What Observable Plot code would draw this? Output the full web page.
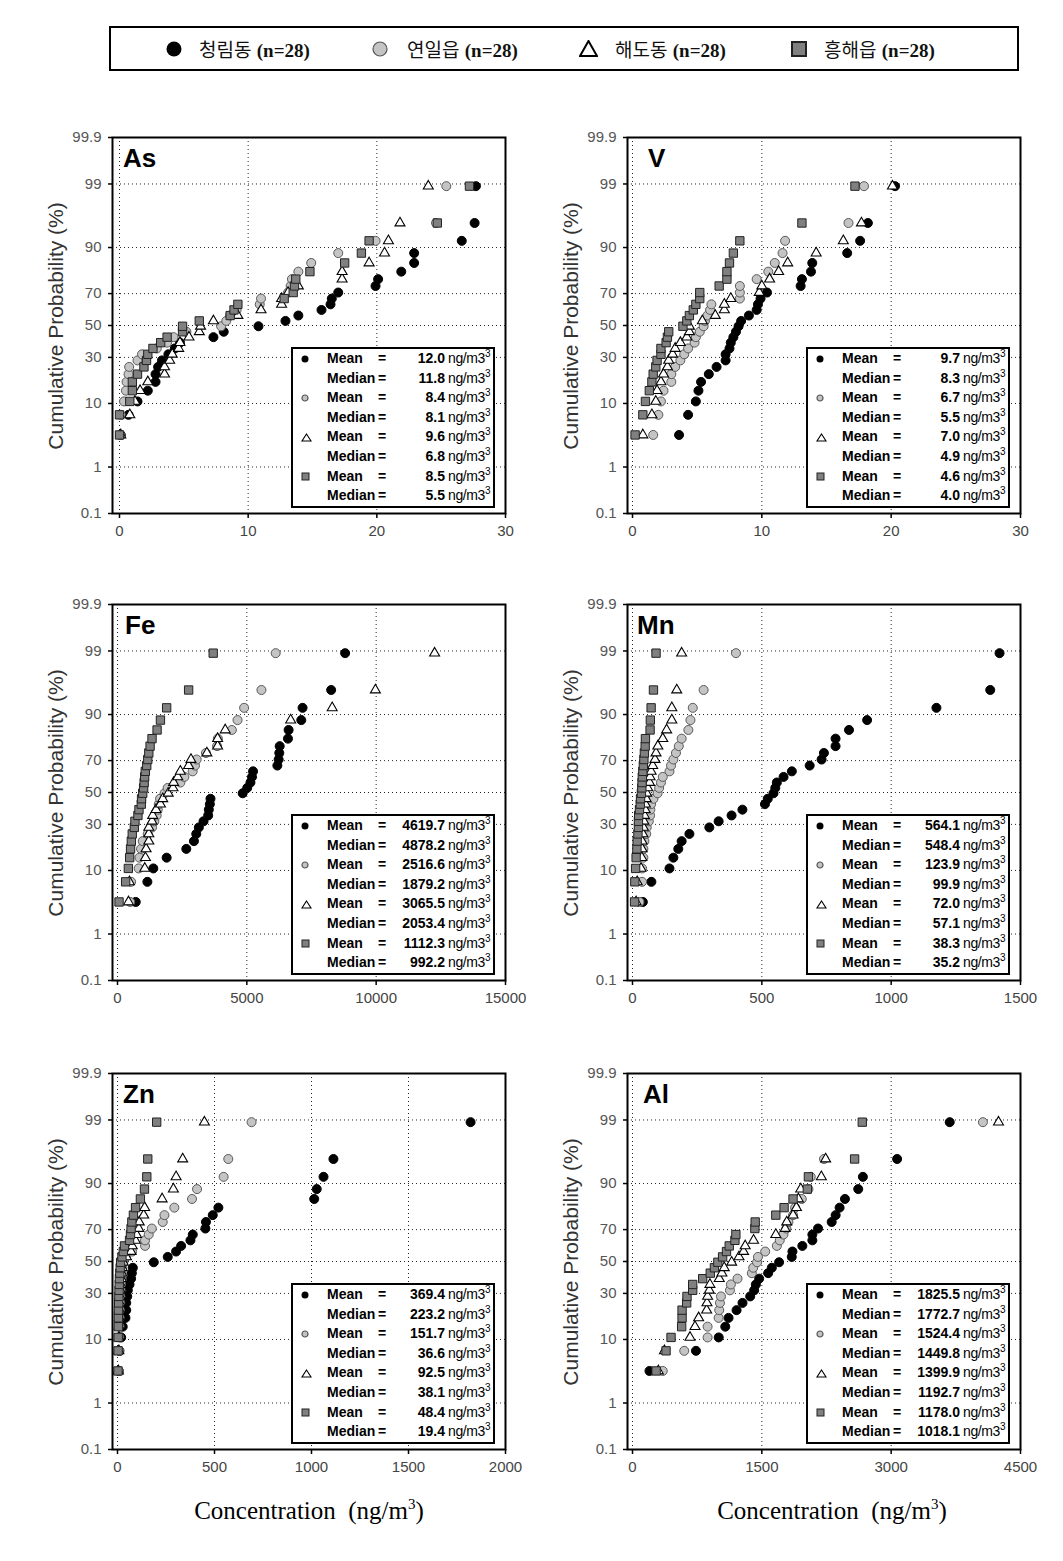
<!DOCTYPE html>
<html><head><meta charset="utf-8">
<script src="https://cdn.jsdelivr.net/npm/d3@7"></script>
<script src="https://cdn.jsdelivr.net/npm/@observablehq/plot@0.6"></script>
<style>
body{margin:0;background:#fff;}
#page{position:relative;width:1063px;height:1561px;overflow:hidden;font-family:"Liberation Sans",Arial,sans-serif;background:#fff;}
.panel{position:absolute;width:480px;height:430px;}
.panel > svg{position:absolute;left:0;top:0;}
.ylab{position:absolute;left:21px;top:206px;transform:translate(-50%,-50%) rotate(-90deg);white-space:nowrap;font-size:21px;color:#333;}
.ptitle{position:absolute;top:25px;font-weight:bold;font-size:26px;line-height:26px;color:#000;}
.box{position:absolute;left:256px;top:227px;width:204px;height:161px;box-sizing:border-box;border:2px solid #000;background:#fff;
  display:grid;grid-template-columns:34px 50px 10px 58px auto;grid-auto-rows:19.6px;font-size:14px;font-weight:bold;color:#000;}
.box div{line-height:19.6px;white-space:nowrap;}
.box .eq{text-align:center;}
.box .val{text-align:right;}
.box .unit{padding-left:3px;font-weight:normal;letter-spacing:-0.4px;}
.box .unit sup{font-size:10px;vertical-align:6px;line-height:0;}
.box .mk{display:flex;align-items:center;padding-left:8px;}
.box .mk svg{display:block;}
#legend{position:absolute;left:109px;top:26px;width:910px;height:45px;box-sizing:border-box;border:2px solid #000;background:#fff;}
#legend .lm{position:absolute;top:13px;}
#legend .lm svg{display:block;}
#legend .lt{position:absolute;top:8px;font-size:19px;line-height:26px;white-space:nowrap;color:#111;}
#legend .kr{font-family:"Noto Sans CJK KR",sans-serif;}
#legend .nn{font-family:"Liberation Serif","Times New Roman",serif;font-weight:bold;}
.xtitle{position:absolute;top:1497px;font-family:"Liberation Serif","Times New Roman",serif;font-size:25px;white-space:nowrap;transform:translateX(-50%);color:#000;}
.xtitle sup{font-size:15px;vertical-align:10px;line-height:0;}
</style></head>
<body><div id="page"></div>
<script>
// ---------- data ----------
const sites = ["청림동", "연일읍", "해도동", "흥해읍"];
const sampleCount = [28, 28, 28, 28];
// cumulative probability (%) of the 28 ranked samples, as plotted
const cumProb = [3.6,7.1,10.6,14.2,17.7,21.2,24.8,28.3,31.8,35.3,38.9,42.4,45.9,49.5,53.0,56.5,60.1,63.6,67.1,70.6,74.2,77.7,81.2,84.8,88.3,91.8,95.4,98.9];
const probTicks = [0.1, 1, 10, 30, 50, 70, 90, 99, 99.9];
const probTickLabels = ["0.1", "1", "10", "30", "50", "70", "90", "99", "99.9"];

// As (ng/m3)
const as_cr = [0.1,0.7,1.4,2.2,2.8,2.8,3.0,3.3,3.8,4.3,4.7,7.3,8.1,10.8,12.9,13.9,15.7,16.4,16.5,17.0,19.9,20.1,21.9,22.9,22.9,26.6,27.6,27.7];
const as_yi = [0.05,0.1,0.35,0.5,0.55,0.7,0.75,1.4,1.75,2.9,3.7,4.2,5.2,7.9,8.3,8.6,9.1,10.9,11.0,13.1,13.3,13.4,13.9,14.9,17.0,19.9,24.6,25.4];
const as_hd = [0.1,0.8,1.2,1.6,2.2,3.5,3.5,3.9,4.1,4.6,4.7,5.4,6.2,6.3,7.3,9.2,11.0,12.6,12.6,13.1,13.9,17.3,17.3,19.4,20.6,20.9,21.8,24.0];
const as_hh = [0.0,0.0,0.8,1.0,1.0,1.4,1.9,2.1,2.2,2.6,3.2,3.7,4.9,4.9,6.2,8.6,8.9,9.2,12.8,13.5,13.6,13.7,14.8,17.5,18.8,19.4,24.7,27.2];
// V
const v_cr = [3.6,4.3,4.9,5.1,5.3,5.9,6.5,7.2,7.2,7.5,7.6,7.8,8.0,8.2,8.4,9.0,9.6,9.7,9.9,10.4,13.0,13.1,13.8,13.9,16.6,17.6,18.2,20.3];
const v_yi = [1.6,2.0,2.2,2.4,3.0,3.0,3.3,3.7,4.0,4.3,4.8,4.9,5.2,5.5,5.6,5.8,6.0,6.1,8.3,8.3,8.3,9.6,10.5,11.0,11.6,11.8,16.7,17.9];
const v_hd = [0.8,1.5,1.8,1.9,2.2,2.4,2.7,2.8,3.1,3.3,3.7,4.2,4.4,4.4,5.4,6.4,7.1,7.1,7.6,9.8,10.0,10.6,11.3,12.0,14.2,16.3,17.7,20.1];
const v_hh = [0.2,0.8,1.0,1.3,1.5,1.6,1.8,1.9,2.2,2.2,2.6,2.7,2.8,3.9,4.2,4.4,4.7,4.9,5.2,5.2,6.7,7.3,7.3,7.5,7.8,8.3,13.1,17.2];
// Fe
const fe_cr = [705,1155,1385,1900,2660,2955,3045,3145,3325,3505,3530,3570,3595,4840,5015,5140,5200,5240,6180,6230,6255,6270,6590,6615,7105,7155,8260,8800];
const fe_yi = [490,525,820,850,910,975,1170,1335,1425,1515,1555,1595,1645,1820,1940,2430,2585,2905,2995,3060,3420,3850,3880,4420,4640,4895,5565,6115];
const fe_hd = [425,460,1055,1080,1105,1210,1210,1210,1335,1360,1490,1660,1750,1960,2145,2170,2330,2430,2750,2840,3455,3870,3870,4165,6695,8300,9970,12260];
const fe_hh = [60,315,420,470,505,535,570,650,675,790,830,920,930,975,1010,1030,1050,1075,1130,1170,1210,1260,1335,1530,1660,1900,2750,3700];
// Mn
const mn_cr = [40,73,143,158,177,190,220,297,333,383,425,512,523,545,552,558,584,616,685,731,740,785,785,837,907,1175,1383,1419];
const mn_yi = [27,37,37,42,42,46,53,55,63,68,69,72,81,97,103,110,117,143,149,158,168,179,190,216,224,233,275,400];
const mn_hd = [14,18,33,36,37,37,40,42,44,46,49,50,53,55,59,66,68,72,78,87,91,98,117,132,152,152,171,190];
const mn_hh = [8,9,12,14,17,18,21,23,23,24,27,30,31,34.5,36,37,38,40,42,44,46,49,50,68,69,72,81,91];
// Zn
const zn_cr = [7,10,19,27,41,45,45,50,53,62,70,74,79,187,259,302,328,376,388,453,456,491,520,1014,1027,1062,1113,1820];
const zn_yi = [7,8,9,10,11,12,14,15,16,18,20,22,25,30,43,75,142,142,161,177,233,242,293,384,410,547,571,691];
const zn_hd = [5,7,8,9,10,11,12,13,15,17,20,22,25,30,46,70,76,92,98,110,112,135,140,230,288,302,336,448];
const zn_hh = [2.5,3,3.5,4,4.5,5,6,7,8,9,10,12,14,16,23,30,36,62,67,70,74,82,93,118,139,151,156,202];
// Al
const al_cr = [197,736,1000,1076,1114,1207,1276,1365,1411,1431,1469,1573,1616,1700,1847,1855,1970,2086,2086,2152,2310,2356,2402,2464,2618,2672,3069,3679];
const al_yi = [351,600,871,871,999,1006,1014,1026,1130,1141,1218,1384,1400,1445,1455,1539,1674,1708,1751,1785,1808,1862,1886,1963,2040,2067,2221,4064];
const al_hd = [300,370,667,725,767,860,864,871,891,898,1006,1037,1064,1150,1235,1288,1307,1404,1662,1770,1789,1862,1901,1924,1951,2190,2240,4245];
const al_hh = [274,389,447,570,575,575,628,632,698,698,814,902,950,990,1045,1090,1122,1188,1199,1419,1423,1662,1758,1862,2028,2040,2576,2665];

// mean / median labels (ng/m3)
const meanAs = ["12.0","8.4","9.6","8.5"],           medianAs = ["11.8","8.1","6.8","5.5"];
const meanV  = ["9.7","6.7","7.0","4.6"],            medianV  = ["8.3","5.5","4.9","4.0"];
const meanFe = ["4619.7","2516.6","3065.5","1112.3"], medianFe = ["4878.2","1879.2","2053.4","992.2"];
const meanMn = ["564.1","123.9","72.0","38.3"],      medianMn = ["548.4","99.9","57.1","35.2"];
const meanZn = ["369.4","151.7","92.5","48.4"],      medianZn = ["223.2","36.6","38.1","19.4"];
const meanAl = ["1825.5","1524.4","1399.9","1178.0"], medianAl = ["1772.7","1449.8","1192.7","1018.1"];

const xTicksAs = [0,10,20,30], xTicksV = [0,10,20,30], xTicksFe = [0,5000,10000,15000],
      xTicksMn = [0,500,1000,1500], xTicksZn = [0,500,1000,1500,2000], xTicksAl = [0,1500,3000,4500];

// ---------- helpers ----------
function probit(p){
  const a=[-3.969683028665376e+01,2.209460984245205e+02,-2.759285104469687e+02,1.383577518672690e+02,-3.066479806614716e+01,2.506628277459239e+00];
  const b=[-5.447609879822406e+01,1.615858368580409e+02,-1.556989798598866e+02,6.680131188771972e+01,-1.328068155288572e+01];
  const c=[-7.784894002430293e-03,-3.223964580411365e-01,-2.400758277161838e+00,-2.549732539343734e+00,4.374664141464968e+00,2.938163982698783e+00];
  const d=[7.784695709041462e-03,3.224671290700398e-01,2.445134137142996e+00,3.754408661907416e+00];
  const pl=0.02425, ph=1-pl;
  if(p<pl){const q=Math.sqrt(-2*Math.log(p));return (((((c[0]*q+c[1])*q+c[2])*q+c[3])*q+c[4])*q+c[5])/((((d[0]*q+d[1])*q+d[2])*q+d[3])*q+1);}
  if(p<=ph){const q=p-0.5,r=q*q;return (((((a[0]*r+a[1])*r+a[2])*r+a[3])*r+a[4])*r+a[5])*q/(((((b[0]*r+b[1])*r+b[2])*r+b[3])*r+b[4])*r+1);}
  const q=Math.sqrt(-2*Math.log(1-p));return -(((((c[0]*q+c[1])*q+c[2])*q+c[3])*q+c[4])*q+c[5])/((((d[0]*q+d[1])*q+d[2])*q+d[3])*q+1);
}
const zTicks = probTicks.map(p => probit(p/100));
const zLabel = new Map(zTicks.map((z,i) => [z.toFixed(6), probTickLabels[i]]));

const styles = [
  {symbol:"circle",   fill:"#000",    stroke:"#000",    r:4.5, strokeWidth:1},
  {symbol:"circle",   fill:"#c4c4c4", stroke:"#5a5a5a", r:4.5, strokeWidth:1},
  {symbol:"triangle", fill:"#fff",    stroke:"#000",    r:3.7, strokeWidth:1.1},
  {symbol:"square",   fill:"#808080", stroke:"#222",    r:4.7, strokeWidth:1}
];
const markerSvg = [
  w => `<svg width="${w}" height="${w}"><circle cx="${w/2}" cy="${w/2}" r="${w/2-0.5}" fill="#000"/></svg>`,
  w => `<svg width="${w}" height="${w}"><circle cx="${w/2}" cy="${w/2}" r="${w/2-1}" fill="#c4c4c4" stroke="#555" stroke-width="1.2"/></svg>`,
  w => `<svg width="${w+2}" height="${w}"><path d="M${(w+2)/2},1 L${w+1},${w-1} L1,${w-1} Z" fill="#fff" stroke="#000" stroke-width="${w>12?2:1.1}"/></svg>`,
  w => `<svg width="${w}" height="${w}"><rect x="1" y="1" width="${w-2}" height="${w-2}" fill="#808080" stroke="#222" stroke-width="${w>12?2:1}"/></svg>`
];

const page = document.getElementById("page");

// top legend
const legend = document.createElement("div"); legend.id = "legend";
const lmX = [55, 261, 468, 680], ltX = [88, 296, 504, 713];
sites.forEach((s,i) => {
  const m = document.createElement("div"); m.className = "lm";
  m.style.left = lmX[i]+"px"; m.style.top = (i===2? 12: 13)+"px";
  m.innerHTML = markerSvg[i](i===2?17:16);
  legend.appendChild(m);
  const t = document.createElement("div"); t.className = "lt"; t.style.left = ltX[i]+"px";
  t.innerHTML = `<span class="kr">${s}</span> <span class="nn">(n=${sampleCount[i]})</span>`;
  legend.appendChild(t);
});
page.appendChild(legend);

const panels = [
  {name:"As", left:35,  top:120,  xmax:30,    xticks:xTicksAs, inset:7, tdx:88, series:[as_cr,as_yi,as_hd,as_hh], mean:meanAs, median:medianAs},
  {name:"V",  left:550, top:120,  xmax:30,    xticks:xTicksV,  inset:5, tdx:98, series:[v_cr,v_yi,v_hd,v_hh],     mean:meanV,  median:medianV},
  {name:"Fe", left:35,  top:587,  xmax:15000, xticks:xTicksFe, inset:5, tdx:90, series:[fe_cr,fe_yi,fe_hd,fe_hh], mean:meanFe, median:medianFe},
  {name:"Mn", left:550, top:587,  xmax:1500,  xticks:xTicksMn, inset:5, tdx:87, series:[mn_cr,mn_yi,mn_hd,mn_hh], mean:meanMn, median:medianMn},
  {name:"Zn", left:35,  top:1056, xmax:2000,  xticks:xTicksZn, inset:5, tdx:88, series:[zn_cr,zn_yi,zn_hd,zn_hh], mean:meanZn, median:medianZn},
  {name:"Al", left:550, top:1056, xmax:4500,  xticks:xTicksAl, inset:5, tdx:93, series:[al_cr,al_yi,al_hd,al_hh], mean:meanAl, median:medianAl}
];

panels.forEach(cfg => {
  const div = document.createElement("div"); div.className = "panel";
  div.style.left = cfg.left+"px"; div.style.top = cfg.top+"px";
  const dotMarks = cfg.series.map((vals, s) => {
    const rows = vals.map((v,i) => ({x:v, z:probit(cumProb[i]/100), site:sites[s]}));
    return Plot.dot(rows, {x:"x", y:"z", ...styles[s]});
  });
  const svg = Plot.plot({
    width:480, height:430,
    marginLeft:77, marginRight:10, marginTop:17, marginBottom:37,
    style:{background:"transparent", fontFamily:"'Liberation Sans', Arial, sans-serif", overflow:"visible"},
    x:{domain:[0,cfg.xmax], insetLeft:cfg.inset, label:null},
    y:{domain:[probit(0.001), probit(0.999)], label:null},
    marks:[
      Plot.frame({fill:"#fff", stroke:"none"}),
      Plot.gridX({ticks:cfg.xticks.slice(0,-1), stroke:"#000", strokeOpacity:0.85, strokeDasharray:"1,3"}),
      Plot.gridY({ticks:zTicks.slice(1,-1), stroke:"#000", strokeOpacity:0.85, strokeDasharray:"1,3"}),
      ...dotMarks,
      Plot.frame({stroke:"#000", strokeWidth:2}),
      Plot.axisY({ticks:zTicks, tickFormat:d => zLabel.get(d.toFixed(6)), tickSize:4, tickPadding:7, fontSize:15, fill:"#555", stroke:"#000", strokeWidth:1.5, label:null}),
      Plot.axisX({ticks:cfg.xticks, tickFormat:d => String(d), tickSize:5, tickPadding:7, fontSize:15, fill:"#444", stroke:"#000", strokeWidth:1.5, label:null})
    ]
  });
  div.appendChild(svg);

  const yl = document.createElement("div"); yl.className = "ylab"; yl.textContent = "Cumulative Probability (%)";
  div.appendChild(yl);
  const tt = document.createElement("div"); tt.className = "ptitle"; tt.style.left = cfg.tdx+"px"; tt.textContent = cfg.name;
  div.appendChild(tt);

  const box = document.createElement("div"); box.className = "box";
  let html = "";
  sites.forEach((s,i) => {
    html += `<div class="mk">${markerSvg[i](i===2?9:(i===3?9:8))}</div><div>Mean</div><div class="eq">=</div><div class="val">${cfg.mean[i]}</div><div class="unit">ng/m3<sup>3</sup></div>`;
    html += `<div></div><div>Median</div><div class="eq">=</div><div class="val">${cfg.median[i]}</div><div class="unit">ng/m3<sup>3</sup></div>`;
  });
  box.innerHTML = html;
  div.appendChild(box);
  page.appendChild(div);
});

// bottom titles
[309, 832].forEach(cx => {
  const t = document.createElement("div"); t.className = "xtitle";
  t.style.left = cx+"px";
  t.innerHTML = "Concentration&nbsp;&nbsp;(ng/m<sup>3</sup>)";
  page.appendChild(t);
});
</script>
</body></html>
